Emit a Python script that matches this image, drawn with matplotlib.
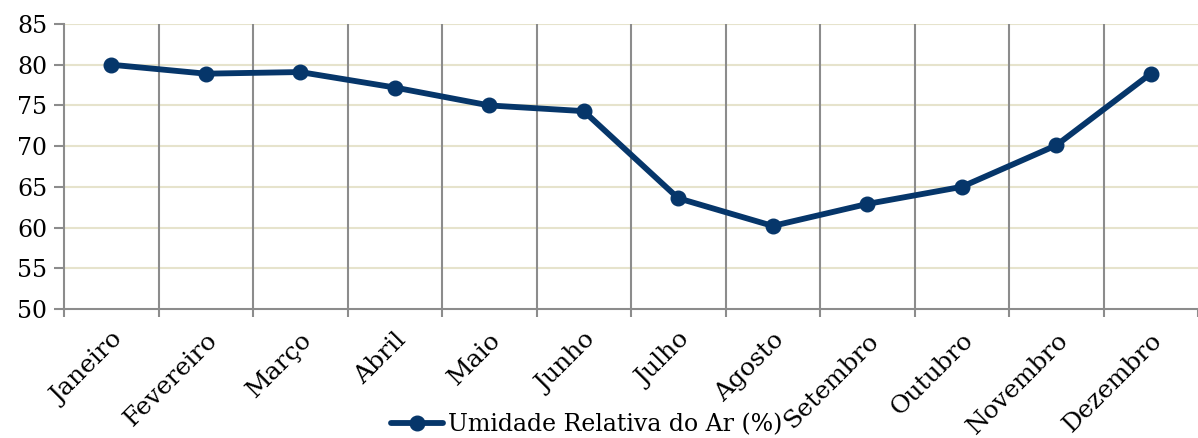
import matplotlib.pyplot as plt

meses = ["Janeiro", "Fevereiro", "Março", "Abril", "Maio", "Junho",
         "Julho", "Agosto", "Setembro", "Outubro", "Novembro", "Dezembro"]
umidade = [80.0, 78.9, 79.1, 77.2, 75.0, 74.3, 63.6, 60.2, 62.9, 65.0, 70.1, 78.9]
y_ticks = [50, 55, 60, 65, 70, 75, 80, 85]

plt.rcParams['font.family'] = ['DejaVu Serif']

fig = plt.figure(figsize=(11.98, 4.38), dpi=100)
ax = fig.add_axes([64 / 1198, 1 - 309 / 438, 1 - 64 / 1198, 285 / 438])

x = list(range(len(meses)))
ax.plot(x, umidade, color="#06366A", lw=4.2, marker="o", ms=10.5,
        solid_capstyle="round", label="Umidade Relativa do Ar (%)", zorder=3)

ax.set_xlim(-0.5, len(meses) - 0.5)
ax.set_ylim(50, 85)
ax.set_yticks(y_ticks)
for v in y_ticks[1:]:
    ax.axhline(v, color="#E6E3CC", lw=1.5, zorder=1)
for b in range(1, len(meses)):
    ax.axvline(b - 0.5, color="#8C8C8C", lw=1.5, zorder=1)

ax.set_xticks(x)
ax.set_xticklabels(meses, rotation=45, ha="right", rotation_mode="anchor", fontsize=18)
ax.set_xticks([b - 0.5 for b in range(len(meses) + 1)], minor=True)
ax.tick_params(axis="x", which="major", length=0, pad=14)
ax.tick_params(axis="x", which="minor", length=6, color="#8C8C8C", width=1.5)
ax.tick_params(axis="y", length=7, color="#8C8C8C", width=1.5, labelsize=17, pad=5)

for s in ["top", "right"]:
    ax.spines[s].set_visible(False)
for s in ["left", "bottom"]:
    ax.spines[s].set_color("#8C8C8C")
    ax.spines[s].set_linewidth(1.5)

fig.legend(loc="lower center", bbox_to_anchor=(0.49, -0.045), frameon=False,
           fontsize=17, handlelength=2.2, handletextpad=0.2)

fig.savefig("out.png", dpi=100)
